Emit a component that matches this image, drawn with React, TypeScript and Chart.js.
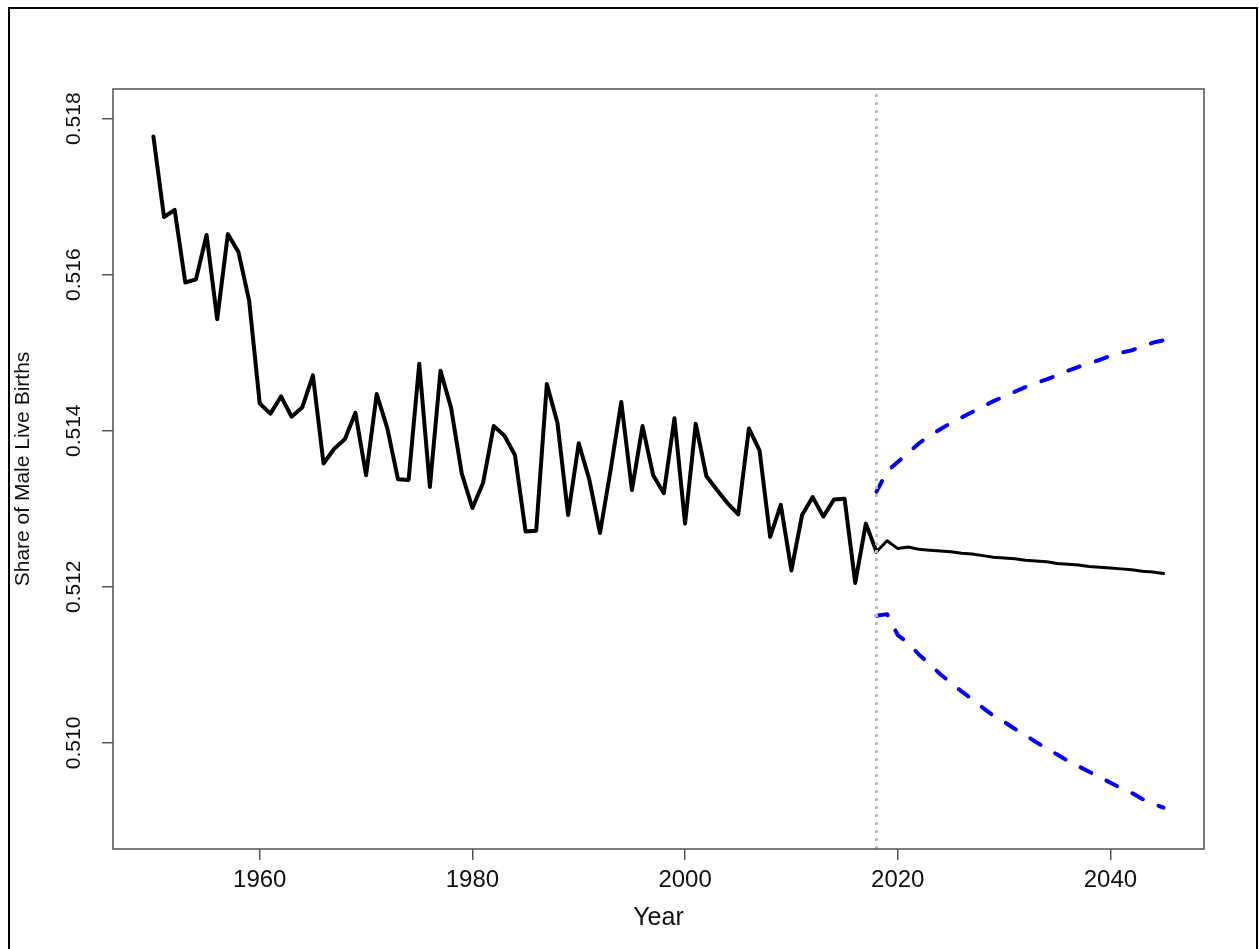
import { useEffect, useRef } from "react";
import { Chart, registerables } from "chart.js";

Chart.register(...registerables);

// Observed share of male live births, 1950–2018
const observedYears = [
  1950, 1951, 1952, 1953, 1954, 1955, 1956, 1957, 1958, 1959,
  1960, 1961, 1962, 1963, 1964, 1965, 1966, 1967, 1968, 1969,
  1970, 1971, 1972, 1973, 1974, 1975, 1976, 1977, 1978, 1979,
  1980, 1981, 1982, 1983, 1984, 1985, 1986, 1987, 1988, 1989,
  1990, 1991, 1992, 1993, 1994, 1995, 1996, 1997, 1998, 1999,
  2000, 2001, 2002, 2003, 2004, 2005, 2006, 2007, 2008, 2009,
  2010, 2011, 2012, 2013, 2014, 2015, 2016, 2017, 2018,
];
const observedShare = [
  0.51777, 0.51674, 0.51683, 0.5159, 0.51594, 0.51651, 0.51543, 0.51652, 0.51629, 0.51567,
  0.51435, 0.51422, 0.51444, 0.51418, 0.5143, 0.51471, 0.51358, 0.51377, 0.51389, 0.51423,
  0.51343, 0.51447, 0.51403, 0.51338, 0.51337, 0.51486, 0.51328, 0.51477, 0.51429, 0.51345,
  0.51301, 0.51333, 0.51406, 0.51394, 0.51369, 0.51271, 0.51272, 0.5146, 0.5141, 0.51292,
  0.51384, 0.51337, 0.51269, 0.5135, 0.51437, 0.51324, 0.51406, 0.51343, 0.5132, 0.51416,
  0.51281, 0.51409, 0.51342, 0.51324, 0.51307, 0.51293, 0.51403, 0.51375, 0.51264, 0.51305,
  0.51221, 0.51292, 0.51315, 0.5129, 0.51312, 0.51313, 0.51205, 0.51281, 0.51245,
];

// Projection, 2018–2045, with its lower and upper bounds
const projectionYears = [
  2018, 2019, 2020, 2021, 2022, 2023, 2024, 2025, 2026, 2027,
  2028, 2029, 2030, 2031, 2032, 2033, 2034, 2035, 2036, 2037,
  2038, 2039, 2040, 2041, 2042, 2043, 2044, 2045,
];
const projectedShare = [
  0.51245, 0.51259, 0.51249, 0.51251, 0.51248, 0.51247, 0.51246, 0.51245, 0.51243, 0.51242,
  0.5124, 0.51238, 0.51237, 0.51236, 0.51234, 0.51233, 0.51232, 0.5123, 0.51229, 0.51228,
  0.51226, 0.51225, 0.51224, 0.51223, 0.51222, 0.5122, 0.51219, 0.51217,
];
const upperBound = [
  0.51322, 0.51348, 0.5136, 0.51372, 0.51384, 0.51394, 0.51402, 0.5141, 0.51417, 0.51424,
  0.51431, 0.51438, 0.51444, 0.5145, 0.51456, 0.51461, 0.51466, 0.51471, 0.51477, 0.51482,
  0.51486, 0.51491, 0.51496, 0.515, 0.51503, 0.51508, 0.51513, 0.51516,
];
const lowerBound = [
  0.51163, 0.51165, 0.51138, 0.51128, 0.51113, 0.51101, 0.51088, 0.51077, 0.51066, 0.51056,
  0.51045, 0.51035, 0.51027, 0.51018, 0.5101, 0.51001, 0.50993, 0.50985, 0.50977, 0.5097,
  0.50963, 0.50956, 0.50949, 0.50942, 0.50936, 0.50928, 0.50922, 0.50917,
];

const projectionStart = 2018;

const xTickValues = [1960, 1980, 2000, 2020, 2040];
const yTickValues = [0.51, 0.512, 0.514, 0.516, 0.518];

const xLimits = { min: 1946.2, max: 2048.8 };
const yLimits = { min: 0.50864, max: 0.51838 };

const FONT = '"Liberation Sans", Arial, Helvetica, sans-serif';
const W = 1259;
const H = 949;

const pairs = (xs: number[], ys: number[]) => xs.map((x, i) => ({ x, y: ys[i] }));

// White page, the outer figure frame and the grey plot box
const framePlugin = {
  id: "frame",
  beforeDraw(chart: any) {
    const { ctx } = chart;
    ctx.save();
    ctx.fillStyle = "#ffffff";
    ctx.fillRect(0, 0, chart.width, chart.height);
    ctx.strokeStyle = "#000000";
    ctx.lineWidth = 2;
    ctx.beginPath();
    ctx.moveTo(9, chart.height + 2);
    ctx.lineTo(9, 8);
    ctx.lineTo(1257, 8);
    ctx.lineTo(1257, chart.height + 2);
    ctx.stroke();
    ctx.restore();
  },
  afterDraw(chart: any) {
    const { ctx, chartArea: a } = chart;
    ctx.save();
    ctx.strokeStyle = "#5a5a5a";
    ctx.lineWidth = 1.6;
    ctx.strokeRect(a.left, a.top, a.right - a.left, a.bottom - a.top);
    ctx.restore();
  },
};

export default function App() {
  const canvasRef = useRef<HTMLCanvasElement | null>(null);

  useEffect(() => {
    const canvas = canvasRef.current;
    if (!canvas) return;

    const chart = new Chart(canvas, {
      type: "line",
      data: {
        datasets: [
          {
            label: "Projection start",
            data: [
              { x: projectionStart, y: yLimits.min },
              { x: projectionStart, y: yLimits.max },
            ],
            borderColor: "#bdbdbd",
            borderWidth: 3,
            borderDash: [3, 5],
            borderCapStyle: "butt",
            pointRadius: 0,
            order: 0,
          },
          {
            label: "Observed",
            data: pairs(observedYears, observedShare),
            borderColor: "#000000",
            borderWidth: 4,
            borderJoinStyle: "round",
            borderCapStyle: "round",
            pointRadius: 0,
            order: 1,
          },
          {
            label: "Projected",
            data: pairs(projectionYears, projectedShare),
            borderColor: "#000000",
            borderWidth: 3,
            borderJoinStyle: "round",
            borderCapStyle: "round",
            pointRadius: 0,
            order: 1,
          },
          {
            label: "Upper bound",
            data: pairs(projectionYears, upperBound),
            borderColor: "#0000ff",
            borderWidth: 4,
            borderDash: [12, 17],
            borderCapStyle: "round",
            borderJoinStyle: "round",
            pointRadius: 0,
            order: 1,
          },
          {
            label: "Lower bound",
            data: pairs(projectionYears, lowerBound),
            borderColor: "#0000ff",
            borderWidth: 4,
            borderDash: [12, 17],
            borderCapStyle: "round",
            borderJoinStyle: "round",
            pointRadius: 0,
            order: 1,
          },
        ],
      },
      options: {
        responsive: false,
        animation: false,
        events: [],
        layout: { padding: { left: 0, top: 89, right: W - 1204, bottom: 0 } },
        plugins: {
          legend: { display: false },
          tooltip: { enabled: false },
        },
        elements: { line: { tension: 0 }, point: { radius: 0 } },
        scales: {
          x: {
            type: "linear",
            min: xLimits.min,
            max: xLimits.max,
            afterBuildTicks: (s: any) => {
              s.ticks = xTickValues.map((v) => ({ value: v }));
            },
            afterFit: (s: any) => {
              s.height = H - 849;
            },
            border: { display: false },
            grid: {
              drawOnChartArea: false,
              drawTicks: true,
              tickLength: 11,
              color: "#555555",
              lineWidth: 1.5,
            },
            ticks: {
              autoSkip: false,
              maxRotation: 0,
              minRotation: 0,
              padding: 6,
              color: "#111111",
              font: { family: FONT, size: 24 },
              callback: (v: any) => String(v),
            },
            title: {
              display: true,
              text: "Year",
              color: "#111111",
              font: { family: FONT, size: 25 },
              padding: { top: 0, bottom: 16 },
            },
          },
          y: {
            type: "linear",
            min: yLimits.min,
            max: yLimits.max,
            afterBuildTicks: (s: any) => {
              s.ticks = yTickValues.map((v) => ({ value: v }));
            },
            afterFit: (s: any) => {
              s.width = 113;
            },
            border: { display: false },
            grid: {
              drawOnChartArea: false,
              drawTicks: true,
              tickLength: 11,
              color: "#555555",
              lineWidth: 1.5,
            },
            ticks: {
              autoSkip: false,
              minRotation: 90,
              maxRotation: 90,
              crossAlign: "center",
              padding: 2,
              color: "#111111",
              font: { family: FONT, size: 21 },
              callback: (v: any) => Number(v).toFixed(3),
            },
            title: {
              display: true,
              text: "Share of Male Live Births",
              color: "#111111",
              font: { family: FONT, size: 21 },
              padding: { top: 11, bottom: 0 },
            },
          },
        },
      },
      plugins: [framePlugin],
    } as any);

    return () => chart.destroy();
  }, []);

  return (
    <div
      style={{
        position: "fixed",
        left: 0,
        top: 0,
        width: W,
        height: H,
        overflow: "hidden",
        background: "#ffffff",
      }}
    >
      <canvas ref={canvasRef} width={W} height={H} style={{ display: "block" }} />
    </div>
  );
}
